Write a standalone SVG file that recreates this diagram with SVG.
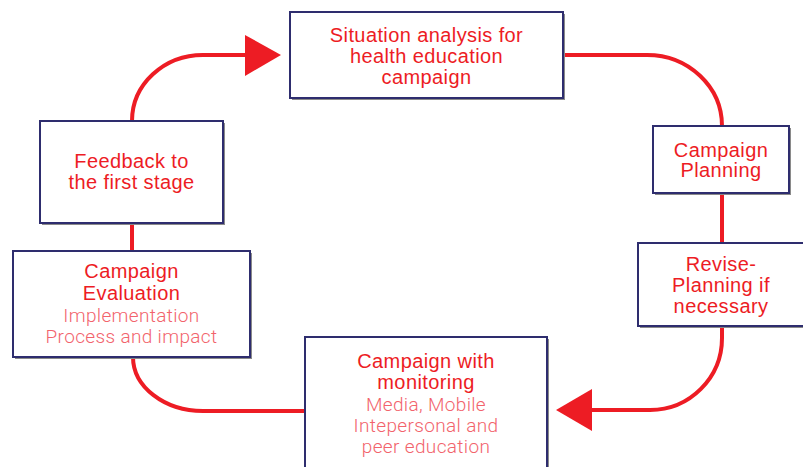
<svg xmlns="http://www.w3.org/2000/svg" width="803" height="467" viewBox="0 0 803 467">
<style>
.shadow{fill:#8a8a8a}
.box{fill:#fff;stroke:#2e2d6e;stroke-width:2}
.t{font-family:"Liberation Sans",Arial,sans-serif;font-size:20px;fill:#ed1c24;text-anchor:middle;letter-spacing:0.4px}
.l{font-family:Roboto,"Liberation Sans",Arial,sans-serif;font-weight:300;font-size:19px;fill:#f2636c;text-anchor:middle;letter-spacing:0.35px}
.c{fill:none;stroke:#ed1c24;stroke-width:4}
.a{fill:#ed1c24}
</style>
<rect width="803" height="467" fill="#fff"/>
<g id="connectors">
<path class="c" d="M132,121 A71,66 0 0 1 203,55 L250,55"/>
<polygon class="a" points="245,35 281,55 245,76"/>
<path class="c" d="M563,55 L647,55 A75,71 0 0 1 722,126"/>
<path class="c" d="M722,193 L722,243"/>
<path class="c" d="M722,326 L722,338 A72,72 0 0 1 650,410 L588,410"/>
<polygon class="a" points="592,389 556,410 592,431"/>
<path class="c" d="M132,223 L132,251"/>
<path class="c" d="M133,357 A70,54 0 0 0 203,411 L305,411"/>
</g>
<g id="situation">
<rect class="shadow" x="292" y="14" width="273" height="86"/>
<rect class="box" x="290" y="12" width="273" height="86"/>
<text class="t" x="426.5" y="42">Situation analysis for</text>
<text class="t" x="426.5" y="63">health education</text>
<text class="t" x="426.5" y="84">campaign</text>
</g>
<g id="planning">
<rect class="shadow" x="655" y="128" width="136" height="67"/>
<rect class="box" x="653" y="126" width="136" height="67"/>
<text class="t" x="721" y="157">Campaign</text>
<text class="t" x="721" y="177">Planning</text>
</g>
<g id="revise">
<rect class="shadow" x="640" y="245" width="170" height="83"/>
<rect class="box" x="638" y="243" width="170" height="83"/>
<text class="t" x="721" y="271">Revise-</text>
<text class="t" x="721" y="292">Planning if</text>
<text class="t" x="721" y="313">necessary</text>
</g>
<g id="monitoring">
<rect class="shadow" x="307" y="339" width="242" height="140"/>
<rect class="box" x="305" y="337" width="242" height="140"/>
<text class="t" x="426" y="368">Campaign with</text>
<text class="t" x="426" y="389">monitoring</text>
<text class="l" x="426" y="411">Media, Mobile</text>
<text class="l" x="426" y="432">Intepersonal and</text>
<text class="l" x="426" y="453">peer education</text>
</g>
<g id="evaluation">
<rect class="shadow" x="15" y="253" width="237" height="106"/>
<rect class="box" x="13" y="251" width="237" height="106"/>
<text class="t" x="131.5" y="278">Campaign</text>
<text class="t" x="131.5" y="300">Evaluation</text>
<text class="l" x="131.5" y="322">Implementation</text>
<text class="l" x="131.5" y="343">Process and impact</text>
</g>
<g id="feedback">
<rect class="shadow" x="42" y="123" width="183" height="102"/>
<rect class="box" x="40" y="121" width="183" height="102"/>
<text class="t" x="131.5" y="168">Feedback to</text>
<text class="t" x="131.5" y="189">the first stage</text>
</g>
</svg>
